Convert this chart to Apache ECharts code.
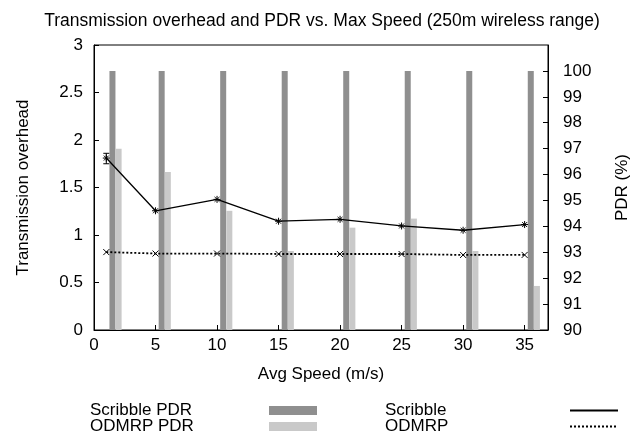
<!DOCTYPE html>
<html>
<head>
<meta charset="utf-8">
<script src="https://cdn.jsdelivr.net/npm/echarts@6/dist/echarts.min.js"></script>
<style>
html, body { margin: 0; padding: 0; background: #fff; }
#chart { width: 644px; height: 435px; }
</style>
</head>
<body>
<div id="chart"></div>
<script>
// data
const speeds = [1, 5, 10, 15, 20, 25, 30, 35];
const scribblePdr = [100, 100, 100, 100, 100, 100, 100, 100];
const odmrpPdr = [97.0, 96.1, 94.6, 93.05, 93.95, 94.3, 93.05, 91.7];
const scribbleOverhead = [1.81, 1.255, 1.375, 1.145, 1.165, 1.095, 1.05, 1.11];
const odmrpOverhead = [0.82, 0.805, 0.805, 0.8, 0.8, 0.8, 0.79, 0.79];
const errSpeeds = [1];
const errLow = [1.75];
const errHigh = [1.86];

const xTicks = [0, 5, 10, 15, 20, 25, 30, 35];
const pdrTicks = [90, 91, 92, 93, 94, 95, 96, 97, 98, 99, 100];

const FONT = "Liberation Sans";
const FS = 17;

const starPath = "path://M0,5L10,5M5,0L5,10M1.5,1.5L8.5,8.5M8.5,1.5L1.5,8.5";
const crossPath = "path://M0,0L10,10M10,0L0,10";

const chart = echarts.init(document.getElementById("chart"), null, { renderer: "canvas" });

// one legend per entry: name on the left, sample on the right
function legendEntry(item, left, centerY, textW) {
    return {
        data: [item],
        orient: "vertical",
        align: "right",
        left: left,
        top: centerY - 8,
        itemWidth: 48,
        itemHeight: 9,
        padding: 0,
        formatter: (n) => "{a|" + n + "}",
        textStyle: {
            fontFamily: FONT,
            fontSize: FS,
            color: "#000",
            rich: { a: { width: textW, align: "left", fontFamily: FONT, fontSize: FS, color: "#000", lineHeight: 16 } },
        },
    };
}

const option = {
    animation: false,
    backgroundColor: "#fff",
    title: {
        text: "Transmission overhead and PDR vs. Max Speed (250m wireless range)",
        left: "center",
        top: 7,
        textStyle: { fontFamily: FONT, fontSize: 17.5, fontWeight: "normal", color: "#000" },
    },
    legend: [
        legendEntry({ name: "Scribble PDR", icon: "rect" }, 90, 410, 174),
        legendEntry({ name: "ODMRP PDR", icon: "rect" }, 90, 426, 174),
        legendEntry({ name: "Scribble", itemStyle: { opacity: 0 } }, 385, 410, 180),
        legendEntry({ name: "ODMRP", itemStyle: { opacity: 0 } }, 385, 426, 180),
    ],
    grid: {
        left: 94,
        right: 96,
        top: 45,
        bottom: 105,
        show: true,
        borderColor: "#000",
        borderWidth: 1,
        backgroundColor: "transparent",
    },
    xAxis: {
        type: "value",
        min: 0,
        max: 36.9,
        interval: 5,
        name: "Avg Speed (m/s)",
        nameLocation: "middle",
        nameGap: 36,
        nameTextStyle: { fontFamily: FONT, fontSize: FS, color: "#000" },
        axisLine: { lineStyle: { color: "#000", width: 1 } },
        axisTick: { inside: true, length: 5, lineStyle: { color: "#000" }, customValues: xTicks },
        axisLabel: { fontFamily: FONT, fontSize: FS, color: "#000", margin: 7, customValues: xTicks },
        splitLine: { show: false },
    },
    yAxis: [
        {
            type: "value",
            min: 0,
            max: 3,
            interval: 0.5,
            name: "Transmission overhead",
            nameLocation: "middle",
            nameGap: 62,
            nameTextStyle: { fontFamily: FONT, fontSize: FS, color: "#000" },
            axisLine: { show: true, lineStyle: { color: "#000" } },
            axisTick: { show: true, inside: true, length: 5, lineStyle: { color: "#000" } },
            axisLabel: { fontFamily: FONT, fontSize: FS, color: "#000", margin: 11 },
            splitLine: { show: false },
        },
        {
            type: "value",
            position: "right",
            min: 90,
            max: 101,
            interval: 1,
            name: "PDR (%)",
            nameLocation: "middle",
            nameGap: 66,
            nameRotate: 90,
            nameTextStyle: { fontFamily: FONT, fontSize: FS, color: "#000" },
            axisLine: { show: true, lineStyle: { color: "#000" } },
            axisTick: { show: true, inside: true, length: 5, lineStyle: { color: "#000" }, customValues: pdrTicks },
            axisLabel: { fontFamily: FONT, fontSize: FS, color: "#000", margin: 15, customValues: pdrTicks },
            splitLine: { show: false },
        },
    ],
    series: [
        {
            name: "Scribble PDR",
            type: "bar",
            yAxisIndex: 1,
            barWidth: 6,
            barGap: "-100%",
            itemStyle: { color: "#8f8f8f" },
            data: speeds.map((s, i) => [s + 0.5, scribblePdr[i]]),
            z: 1,
        },
        {
            name: "ODMRP PDR",
            type: "bar",
            yAxisIndex: 1,
            barWidth: 6,
            barGap: "-100%",
            itemStyle: { color: "#c9c9c9" },
            data: speeds.map((s, i) => [s + 1.0, odmrpPdr[i]]),
            z: 1,
        },
        {
            name: "Scribble",
            type: "line",
            yAxisIndex: 0,
            symbol: starPath,
            symbolSize: 7,
            itemStyle: { color: "none", borderColor: "#000", borderWidth: 1 },
            lineStyle: { color: "#000", width: 1.3 },
            data: speeds.map((s, i) => [s, scribbleOverhead[i]]),
            z: 3,
        },
        {
            name: "ODMRP",
            type: "line",
            yAxisIndex: 0,
            symbol: crossPath,
            symbolSize: 6,
            itemStyle: { color: "none", borderColor: "#000", borderWidth: 1 },
            lineStyle: { color: "#000", width: 1.8, type: [2, 2] },
            data: speeds.map((s, i) => [s, odmrpOverhead[i]]),
            z: 3,
        },
        {
            name: "err",
            type: "custom",
            yAxisIndex: 0,
            data: errSpeeds.map((s, i) => [s, errLow[i], errHigh[i]]),
            renderItem: (params, api) => {
                const lo = api.coord([api.value(0), api.value(1)]);
                const hi = api.coord([api.value(0), api.value(2)]);
                const c = 3;
                return {
                    type: "group",
                    children: [
                        { type: "line", shape: { x1: lo[0], y1: lo[1], x2: hi[0], y2: hi[1] }, style: { stroke: "#000", lineWidth: 1 } },
                        { type: "line", shape: { x1: lo[0] - c, y1: lo[1], x2: lo[0] + c, y2: lo[1] }, style: { stroke: "#000", lineWidth: 1 } },
                        { type: "line", shape: { x1: hi[0] - c, y1: hi[1], x2: hi[0] + c, y2: hi[1] }, style: { stroke: "#000", lineWidth: 1 } },
                    ],
                };
            },
            z: 4,
        },
    ],
};

chart.setOption(option);
</script>
</body>
</html>
